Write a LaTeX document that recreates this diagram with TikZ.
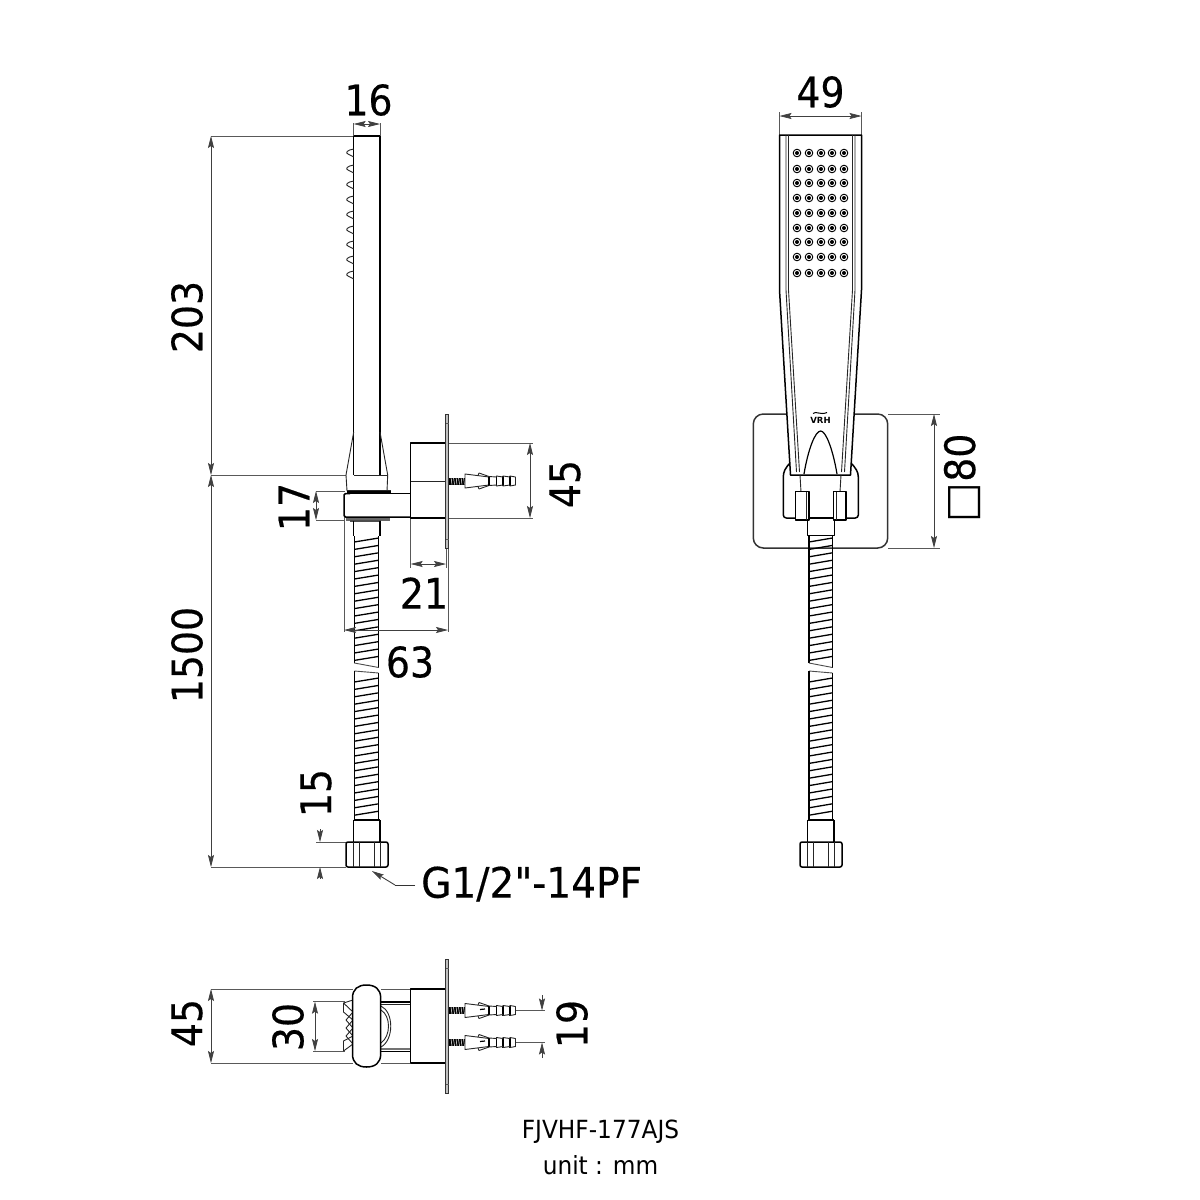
\documentclass[tikz,border=0pt]{standalone}
\usepackage{fontspec}
\usetikzlibrary{arrows.meta}
\setmainfont{DejaVu Sans}
\newfontfamily\dimfont[FakeStretch=0.9,FakeBold=0.4]{DejaVu Sans}
\newfontfamily\gfont[FakeStretch=0.93,FakeBold=0.4]{DejaVu Sans}
\newfontfamily\capfont[FakeStretch=0.93]{DejaVu Sans}
\tikzset{
  x=1pt,y=-1pt,
  outline/.style={line width=1.5pt,black,line join=round},
  thinline/.style={line width=0.9pt,black!85,line join=round},
  extline/.style={line width=0.8pt,black!65},
  dimline/.style={line width=0.7pt,black!75,{Stealth[length=12pt,width=6pt,inset=2pt]}-{Stealth[length=12pt,width=6pt,inset=2pt]}},
  tipline/.style={line width=0.7pt,black!75,-{Stealth[length=12pt,width=6pt,inset=2pt]}},
  dimtext/.style={font=\dimfont\fontsize{42}{42}\selectfont,inner sep=0pt},
  captext/.style={font=\capfont\fontsize{25}{25}\selectfont,inner sep=0pt},
  plate/.style={line width=0.9pt,black!80,fill=black!25},
  thread/.style={line width=0.8pt,black,fill=black!85}
}
% hose: left x, right x
\newcommand{\hoseribs}[2]{%
  \foreach \yy in {540,547.4,...,660}{\draw[line width=1.3pt] (#1,\yy+2) -- (#2,\yy-2);}
  \foreach \yy in {680,687.4,...,815}{\draw[line width=1.3pt] (#1,\yy+2) -- (#2,\yy-2);}
  \draw[outline] (#1,536) -- (#1,663);
  \draw[outline] (#2,536) -- (#2,667.5);
  \draw[thinline,black!70] (#1,663) -- (#2,667.5);
  \draw[thinline,black!70] (#1,671) -- (#2,673);
  \draw[outline] (#1,671) -- (#1,820);
  \draw[outline] (#2,673) -- (#2,820);
}
% nut: left edge of nut
\newcommand{\nut}[1]{%
  \draw[outline,rounded corners=2pt] (#1,842) rectangle (#1+42,867);
  \draw[outline] (#1+7.5,820) -- (#1+7.5,842);
  \draw[outline] (#1+34,820) -- (#1+34,842);
  \draw[outline] (#1+7.5,820) -- (#1+34,820);
  \draw[thinline] (#1+7,842) -- (#1+7,867) (#1+13,842) -- (#1+13,867) (#1+28,842) -- (#1+28,867) (#1+34,842) -- (#1+34,867);
}
% anchor with screw, centred on y
\newcommand{\wallanchor}[1]{%
  \fill[black] (449,#1-3.5) rectangle (465,#1+3.5);
  \foreach \xx in {451,453.5,...,464}{\draw[white,line width=0.5pt] (\xx,#1-3.5) -- (\xx+1,#1+3.5);}
  \draw[thinline,fill=white] (465,#1-7) -- (489,#1-4) -- (489,#1+4) -- (465,#1+7) -- cycle;
  \draw[thinline] (478,#1-5.5) -- (479,#1-8) -- (489,#1-4.5) (478,#1+5.5) -- (479,#1+8) -- (489,#1+4.5);
  \draw[line width=1.4pt] (489,#1-4.5) -- (489,#1+4.5) (496.5,#1-5) -- (496.5,#1+5) (503,#1-5) -- (503,#1+5) (510,#1-5) -- (510,#1+5);
  \draw[thinline] (489,#1-4.5) -- (496.5,#1-4) -- (496.5,#1-5) -- (503,#1-4) -- (503,#1-5) -- (510,#1-4) -- (510,#1-5) -- (515.5,#1-4) -- (515.5,#1+4) -- (510,#1+5) -- (510,#1+4) -- (503,#1+5) -- (503,#1+4) -- (496.5,#1+5) -- (496.5,#1+4) -- (489,#1+4.5);
}
\newcommand{\dimV}[4]{\coordinate (#1a) at (#2,#3);\coordinate (#1b) at (#2,#4);\draw[dimline] (#1a) -- (#1b);}
\newcommand{\dimH}[4]{\coordinate (#1a) at (#3,#2);\coordinate (#1b) at (#4,#2);\draw[dimline] (#1a) -- (#1b);}
\begin{document}
\begin{tikzpicture}
\useasboundingbox (0,0) rectangle (1200,1200);
\fill[white] (0,0) rectangle (1200,1200);

%% ---------- side view ----------
\draw[extline] (353,137) -- (353,123) (380,137) -- (380,123);
\draw[extline] (211,136) -- (353,136);
\draw[extline] (211,475) -- (346,475);
\draw[extline] (211,867) -- (346,867);
\draw[extline] (316,491) -- (345,491) (316,520) -- (345,520);
\draw[extline] (316,842) -- (346,842);
\draw[extline] (448,443) -- (533,443) (448,518) -- (533,518);
\draw[extline] (410.7,518) -- (410.7,568) (446,549) -- (446,568);
\draw[extline] (344,517) -- (344,632) (448,549) -- (448,632);
\draw[outline] (353.7,136) -- (380,136);
\draw[outline] (353.7,136) -- (353.7,475);
\draw[outline] (380,136) -- (380,475);
\draw[thinline] (353.7,475) -- (388,475);
\foreach \yy in {153,169,185,200,215,230,245,260,275}{
  \draw[thinline] (353.7,\yy-4) .. controls (347,\yy-3) and (345,\yy) .. (348,\yy+1) -- (353.7,\yy+4);
}
\draw[thinline] (353.7,432) -- (346,475) -- (347,491);
\draw[thinline] (380,432) -- (387.7,475) -- (387,491);
\draw[outline] (347,492) -- (391,492);
\draw[thinline] (347,490.5) -- (391,490.5);
\draw[thinline] (391,493) -- (410.7,493);
\draw[outline] (350,493.5) -- (410.7,493.5);
\draw[outline,rounded corners=1.5pt] (410.7,517) -- (344,517) -- (344,493.5) -- (350,493.5);
\draw[line width=3pt,black!60] (346,519) -- (390,519);
\draw[line width=2pt,black!70] (350,521) -- (381,521);
\draw[outline] (353.7,521) -- (353.7,536) (380,521) -- (380,536);
\draw[outline] (410.7,443) rectangle (446,518);
\draw[thinline] (410.7,481) -- (446,481);
\draw[plate] (445.5,414) rectangle (448.5,548);
\draw[extline] (445.5,423) -- (448.5,423) (445.5,539) -- (448.5,539);
\wallanchor{481}
\hoseribs{354.3}{378.7}
\nut{346}
\draw[line width=0.9pt,black!80] (415,885) -- (395,885);
\coordinate (leadA) at (395,885);\coordinate (leadB) at (372,871);
\draw[tipline,line width=0.9pt] (leadA) -- (leadB);

% dims, side view
\dimH{d16}{124}{353.7}{380}
\dimV{d203}{211}{136}{475}
\dimV{d1500}{211}{475}{867}
\dimV{d17}{316}{491}{520}
\dimV{d45}{530}{443}{518}
\dimH{d21}{564}{410.7}{446}
\dimH{d63}{630}{344}{448}
\coordinate (d15a) at (320,829);\coordinate (d15b) at (320,842);\coordinate (d15c) at (320,879);\coordinate (d15d) at (320,867);
\draw[tipline] (d15a) -- (d15b);
\draw[tipline] (d15c) -- (d15d);
\node[dimtext] (t16) at (368.5,100) {16};
\node[dimtext,rotate=90] (t203) at (187,317) {203};
\node[dimtext,rotate=90] (t1500) at (187,655) {1500};
\node[dimtext,rotate=90] (t17) at (294,507) {17};
\node[dimtext,rotate=90] (t45a) at (565,484) {45};
\node[dimtext] (t21) at (424,593) {21};
\node[dimtext] (t63) at (410,662) {63};
\node[dimtext,rotate=90] (t15) at (316,793) {15};
\node[dimtext,font=\gfont\fontsize{42}{42}\selectfont,anchor=west] (tg) at (421,884) {G1/2"-14PF};

%% ---------- front view ----------
\draw[extline] (779.5,135) -- (779.5,112) (861.5,135) -- (861.5,112);
\draw[extline] (888,414) -- (940,414) (888,548) -- (940,548);
\draw[outline,black!80,rounded corners=10pt,fill=white] (753.3,414) rectangle (887.7,548);
% bracket
\draw[outline,fill=white,rounded corners=3pt] (791,462) .. controls (785,468) and (783.3,472) .. (783.3,480) -- (783.3,518) -- (858.3,518) -- (858.3,480) .. controls (858.3,472) and (856,468) .. (850,462);
% head
\draw[outline,fill=white] (779.5,135) -- (779.5,290) -- (790.5,475) -- (850.5,475) -- (861.5,290) -- (861.5,135) -- cycle;
\draw[thinline] (786,135) -- (786,290) -- (796.5,472);
\draw[thinline] (788.5,135) -- (788.5,290) -- (799.5,472);
\draw[thinline] (855,135) -- (855,290) -- (844.5,472);
\draw[thinline] (852.5,135) -- (852.5,290) -- (841.5,472);
\draw[line width=1.2pt] (804,474) .. controls (808,450) and (815,431) .. (820.7,431) .. controls (826,431) and (833,450) .. (837,474);
\foreach \cx in {797,809,821,832,844}{
  \foreach \cy in {153,169,183,198,213,228,242,257,273}{
    \draw[line width=0.9pt] (\cx,\cy) circle[radius=3.8];
    \fill (\cx,\cy) circle[radius=2];
  }
}
\node[inner sep=0pt,font=\bfseries\fontsize{8.5}{8.5}\selectfont] (logo) at (820.5,420.5) {VRH};
\draw[line width=1pt] (813,413.5) .. controls (816,410.5) and (820,415.5) .. (827,412.5);
\draw[thinline] (800,475) -- (801,492) (841,475) -- (840,492);
\draw[outline,fill=white] (807.3,518) rectangle (834.3,535.7);
\draw[outline,fill=white] (795.7,491.7) rectangle (809,520);
\draw[thinline] (806,491.7) -- (806,520);
\draw[outline,fill=white] (833.3,491.7) rectangle (846,520);
\draw[thinline] (836,491.7) -- (836,520);
\hoseribs{809}{832.5}
\nut{800}
\dimH{d49}{116}{779.5}{861.5}
\dimV{d80}{934}{414}{548}
\node[dimtext] (t49) at (820.5,92) {49};
\node[dimtext,rotate=90,anchor=center] (t80) at (962,478) {{\rmfamily □}\hspace{1pt}80};

%% ---------- bottom view ----------
\draw[extline] (211,989) -- (353,989) (381,989) -- (410,989);
\draw[extline] (211,1063) -- (353,1063) (381,1063) -- (410,1063);
\draw[extline] (313,1001.7) -- (345,1001.7) (313,1051) -- (345,1051);
\draw[extline] (516,1010.5) -- (545,1010.5) (516,1042.5) -- (545,1042.5);
% connector
\draw[outline] (381,1002) -- (410.7,1002);
\draw[thinline] (381,1004.5) -- (410.7,1004.5);
\draw[line width=1pt,black] (381,1051) -- (410.7,1051);
\draw[line width=2.5pt,black!55] (381,1049) -- (410.7,1049);
\draw[thinline] (381,1006) .. controls (394,1012) and (394,1040) .. (381,1047);
\draw[thinline] (381,1010) .. controls (391,1016) and (391,1036) .. (381,1043);
% serrated face
\draw[thinline] (353,1000) -- (343.5,1003) -- (353,1012) -- (346,1020) -- (353,1028) -- (346,1036) -- (353,1044) -- (343.5,1051);
\draw[thinline] (343.5,1003) -- (343.5,1012) -- (353,1020) -- (346,1028) -- (353,1036) -- (343.5,1041) -- (343.5,1051);
\draw[outline,fill=white] (352.5,998) .. controls (352.5,989) and (358,985) .. (366.5,985) .. controls (375,985) and (380.7,989) .. (380.7,998) -- (380.7,1054) .. controls (380.7,1063) and (375,1067) .. (366.5,1067) .. controls (358,1067) and (352.5,1063) .. (352.5,1054) -- cycle;
\draw[outline,fill=white] (410.7,989) rectangle (446,1063);
\draw[plate] (445.5,959) rectangle (448.5,1093);
\draw[extline] (445.5,968) -- (448.5,968) (445.5,1084) -- (448.5,1084);
\wallanchor{1010.5}
\wallanchor{1042.5}
\draw[line width=1.2pt] (480,1009.5) -- (485,1009) (480,1041.5) -- (485,1041);
\dimV{d45b}{211}{989}{1063}
\dimV{d30}{315}{1001.7}{1051}
\coordinate (d19a) at (542,995);\coordinate (d19b) at (542,1010.5);\coordinate (d19c) at (542,1058);\coordinate (d19d) at (542,1042.5);
\draw[tipline] (d19a) -- (d19b);
\draw[tipline] (d19c) -- (d19d);
\node[dimtext,rotate=90] (t45b) at (187,1023) {45};
\node[dimtext,rotate=90] (t30) at (288,1027) {30};
\node[dimtext,rotate=90] (t19) at (572,1024) {19};

%% ---------- caption ----------
\node[captext] (cap1) at (600.5,1132) {FJVHF-177AJS};
\node[captext] (cap2) at (600.5,1165) {unit : mm};
\end{tikzpicture}
\end{document}
